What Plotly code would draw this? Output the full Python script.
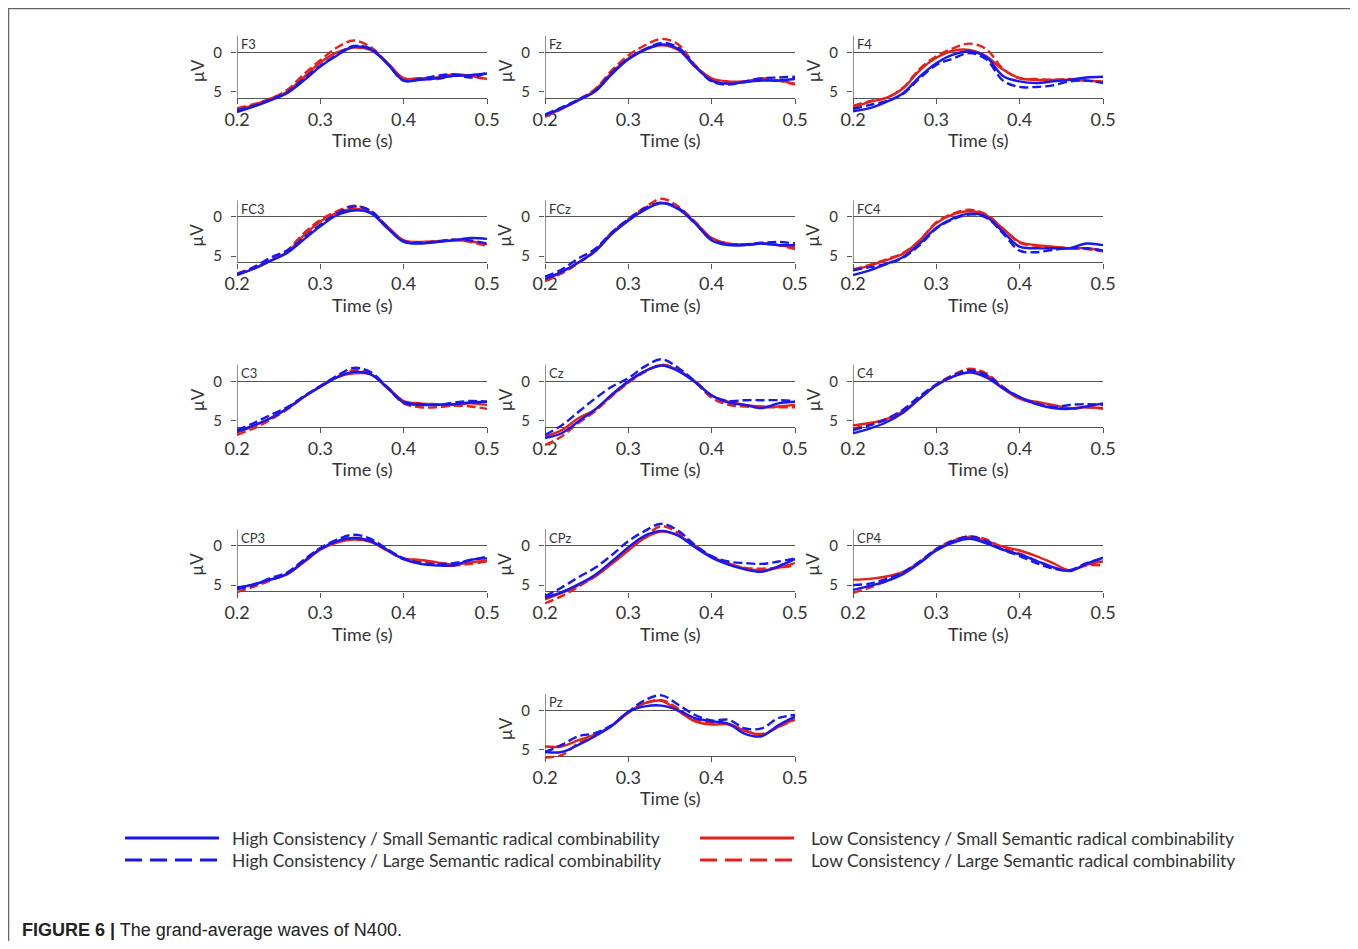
import plotly.graph_objects as go

# target canvas is 1358x949; the page body adds an 8px margin, so the figure is 8px smaller
PAGE_W, PAGE_H = 1358, 949
BODY = 8
FW, FH = PAGE_W - BODY, PAGE_H - 2 * BODY

# ---------------- data (µV, negative plotted upward) ----------------
time_s = [0.20, 0.22, 0.24, 0.26, 0.28, 0.30, 0.32, 0.34, 0.36, 0.38, 0.40, 0.42, 0.44, 0.46, 0.48, 0.50]
x_ticks = [0.2, 0.3, 0.4, 0.5]
x_tick_text = ["0.2", "0.3", "0.4", "0.5"]
y_ticks = [0, 5]
y_tick_text = ["0", "5"]

channels = ["F3", "Fz", "F4", "FC3", "FCz", "FC4", "C3", "Cz", "C4", "CP3", "CPz", "CP4", "Pz"]
grid_row = [0, 0, 0, 1, 1, 1, 2, 2, 2, 3, 3, 3, 4]
grid_col = [0, 1, 2, 0, 1, 2, 0, 1, 2, 0, 1, 2, 1]

condition_names = [
    "High Consistency / Small Semantic radical combinability",
    "High Consistency / Large Semantic radical combinability",
    "Low Consistency / Small Semantic radical combinability",
    "Low Consistency / Large Semantic radical combinability",
]

# High consistency / small combinability (blue solid)
hs_F3 = [7.6, 6.9, 6.1, 5.2, 3.6, 1.8, 0.4, -0.7, -0.4, 1.4, 3.6, 3.5, 3.3, 3.0, 2.9, 2.7]
hs_Fz = [8.0, 7.1, 6.1, 5.0, 2.8, 0.9, -0.3, -1.0, -0.4, 1.8, 3.6, 4.0, 3.8, 3.6, 3.6, 3.4]
hs_F4 = [7.5, 7.1, 6.3, 5.2, 3.1, 1.4, 0.3, -0.1, 0.6, 3.0, 3.7, 3.9, 3.7, 3.5, 3.2, 3.1]
hs_FC3 = [7.4, 6.6, 5.6, 4.6, 2.9, 1.2, -0.2, -0.8, -0.5, 1.4, 3.2, 3.4, 3.2, 3.0, 2.7, 2.8]
hs_FCz = [7.9, 7.0, 5.8, 4.4, 2.2, 0.5, -0.9, -1.7, -1.0, 0.8, 3.0, 3.6, 3.6, 3.4, 3.6, 3.6]
hs_FC4 = [7.4, 6.8, 6.0, 5.1, 3.4, 1.4, 0.2, -0.4, 0.0, 1.9, 3.8, 4.0, 4.0, 4.0, 3.4, 3.6]
hs_C3 = [6.4, 5.6, 4.7, 3.5, 2.0, 0.7, -0.5, -1.2, -0.9, 0.8, 2.7, 3.0, 3.0, 2.9, 2.7, 2.6]
hs_Cz = [7.2, 6.6, 5.1, 3.6, 1.7, 0.0, -1.3, -2.0, -1.3, 0.1, 1.8, 2.7, 3.0, 3.4, 2.8, 2.6]
hs_C4 = [6.6, 6.0, 5.2, 4.0, 2.2, 0.5, -0.6, -1.1, -0.5, 0.9, 2.0, 2.9, 3.4, 3.5, 3.2, 2.8]
hs_CP3 = [5.3, 4.9, 4.3, 3.6, 2.0, 0.4, -0.6, -1.0, -0.6, 0.5, 1.7, 2.3, 2.5, 2.5, 1.8, 1.6]
hs_CPz = [6.6, 5.9, 4.9, 3.7, 2.0, 0.2, -1.3, -1.9, -1.3, 0.2, 1.5, 2.4, 3.0, 3.3, 2.6, 1.7]
hs_CP4 = [5.6, 5.1, 4.5, 3.6, 2.2, 0.6, -0.4, -0.9, -0.3, 0.5, 1.1, 1.9, 2.7, 3.2, 2.3, 1.5]
hs_Pz = [5.3, 5.3, 4.4, 3.3, 2.0, 0.2, -0.5, -0.6, 0.0, 1.0, 1.4, 1.7, 3.0, 3.3, 1.9, 0.8]

# High consistency / large combinability (blue dashed)
hl_F3 = [7.4, 6.8, 6.0, 5.1, 3.4, 1.7, 0.3, -0.8, -0.5, 1.4, 3.6, 3.4, 3.0, 2.8, 3.2, 2.6]
hl_Fz = [7.9, 7.0, 6.0, 4.9, 2.6, 0.8, -0.4, -1.2, -0.6, 1.7, 3.7, 4.1, 3.7, 3.3, 3.2, 3.1]
hl_F4 = [7.2, 6.7, 6.2, 5.3, 3.3, 1.6, 0.8, 0.1, 0.9, 3.6, 4.4, 4.4, 4.2, 3.7, 3.6, 3.9]
hl_FC3 = [7.3, 6.4, 5.2, 4.3, 2.7, 1.0, -0.4, -1.3, -0.8, 1.3, 3.1, 3.3, 3.1, 2.9, 3.0, 3.4]
hl_FCz = [7.6, 6.7, 5.3, 4.1, 2.0, 0.3, -1.1, -1.8, -1.1, 0.8, 2.9, 3.5, 3.5, 3.3, 3.2, 3.4]
hl_FC4 = [6.8, 6.4, 6.0, 5.2, 3.6, 1.5, 0.3, -0.3, 0.1, 2.1, 4.3, 4.5, 4.2, 4.0, 4.0, 4.3]
hl_C3 = [6.2, 5.3, 4.3, 3.3, 1.9, 0.6, -0.7, -1.7, -1.2, 0.7, 2.6, 2.9, 3.0, 2.7, 2.5, 2.6]
hl_Cz = [6.8, 5.6, 3.9, 2.2, 0.7, -0.4, -1.9, -2.8, -1.7, 0.0, 1.8, 2.5, 2.4, 2.4, 2.4, 2.5]
hl_C4 = [6.2, 5.6, 4.8, 3.6, 1.9, 0.4, -0.7, -1.4, -0.8, 0.8, 2.0, 2.8, 3.3, 3.0, 2.9, 3.0]
hl_CP3 = [5.5, 5.0, 4.1, 3.4, 1.8, 0.3, -0.8, -1.4, -0.9, 0.4, 1.6, 2.2, 2.3, 2.2, 1.8, 1.4]
hl_CPz = [6.4, 5.3, 4.0, 2.8, 1.2, -0.6, -1.9, -2.8, -1.9, -0.1, 1.3, 2.0, 2.2, 2.3, 2.0, 1.6]
hl_CP4 = [5.0, 4.8, 4.2, 3.4, 2.0, 0.4, -0.6, -1.2, -0.6, 0.5, 1.3, 2.2, 2.9, 3.1, 2.2, 1.6]
hl_Pz = [5.3, 4.4, 3.3, 2.9, 1.9, 0.2, -1.3, -1.9, -0.7, 0.6, 1.3, 1.2, 2.3, 2.3, 1.0, 0.6]

# Low consistency / small combinability (red solid)
ls_F3 = [7.3, 6.7, 5.9, 5.0, 3.2, 1.3, 0.0, -0.6, -0.3, 1.3, 3.3, 3.3, 3.2, 2.8, 3.0, 3.4]
ls_Fz = [8.1, 7.2, 6.1, 4.8, 2.6, 0.8, -0.4, -0.9, -0.3, 1.8, 3.3, 3.7, 3.7, 3.5, 3.6, 4.0]
ls_F4 = [7.0, 6.3, 5.8, 4.6, 2.3, 0.7, -0.2, -0.3, 0.5, 2.2, 3.3, 3.5, 3.5, 3.5, 3.6, 3.7]
ls_FC3 = [7.3, 6.6, 5.6, 4.5, 2.4, 0.6, -0.5, -1.0, -0.6, 1.2, 3.0, 3.2, 3.1, 3.0, 3.1, 3.5]
ls_FCz = [8.0, 7.0, 5.8, 4.3, 2.1, 0.4, -0.9, -1.8, -1.0, 0.7, 2.7, 3.4, 3.5, 3.4, 3.6, 3.9]
ls_FC4 = [6.8, 6.2, 5.5, 4.7, 3.0, 0.8, -0.3, -0.7, -0.2, 1.5, 3.2, 3.6, 3.8, 4.0, 4.0, 4.3]
ls_C3 = [6.5, 5.7, 4.7, 3.5, 2.0, 0.7, -0.5, -1.0, -0.9, 0.7, 2.5, 2.8, 2.9, 3.0, 2.8, 3.0]
ls_Cz = [7.0, 6.2, 4.7, 3.6, 1.8, 0.1, -1.3, -2.0, -1.4, 0.0, 1.8, 2.6, 3.0, 3.2, 3.2, 3.0]
ls_C4 = [5.6, 5.3, 4.8, 3.8, 2.2, 0.5, -0.6, -1.2, -0.8, 0.9, 2.2, 2.6, 3.0, 3.4, 3.3, 3.4]
ls_CP3 = [5.4, 4.9, 4.3, 3.6, 2.1, 0.5, -0.4, -0.8, -0.5, 0.6, 1.6, 1.8, 2.1, 2.4, 2.1, 1.9]
ls_CPz = [6.8, 6.0, 5.0, 3.9, 2.3, 0.6, -1.0, -1.8, -1.3, 0.0, 1.4, 2.2, 2.9, 3.1, 2.8, 2.2]
ls_CP4 = [4.3, 4.2, 3.9, 3.3, 2.1, 0.5, -0.6, -1.1, -0.6, 0.1, 0.6, 1.3, 2.2, 3.1, 2.4, 2.0]
ls_Pz = [4.6, 4.6, 3.8, 3.1, 2.0, 0.3, -0.9, -1.2, 0.1, 1.4, 1.8, 1.8, 2.6, 3.1, 2.1, 1.1]

# Low consistency / large combinability (red dashed)
ll_F3 = [7.1, 6.6, 5.9, 4.8, 2.8, 1.0, -0.6, -1.5, -0.7, 1.3, 3.3, 3.3, 3.4, 3.0, 3.0, 3.5]
ll_Fz = [8.2, 7.2, 6.0, 4.7, 2.3, 0.4, -0.9, -1.7, -1.0, 1.6, 3.4, 3.8, 3.7, 3.3, 3.6, 4.1]
ll_F4 = [6.8, 6.2, 5.8, 4.5, 2.1, 0.5, -0.5, -1.1, -0.4, 2.1, 3.3, 3.4, 3.5, 3.4, 3.6, 3.8]
ll_FC3 = [7.2, 6.5, 5.5, 4.3, 2.1, 0.4, -0.7, -1.4, -0.8, 1.2, 3.0, 3.3, 3.2, 2.9, 3.2, 3.7]
ll_FCz = [8.2, 7.2, 5.9, 4.4, 2.0, 0.3, -1.2, -2.3, -1.3, 0.6, 2.7, 3.4, 3.6, 3.4, 3.6, 4.1]
ll_FC4 = [6.7, 6.1, 5.4, 4.6, 3.0, 0.7, -0.4, -0.9, -0.3, 1.5, 3.3, 3.7, 3.9, 4.0, 4.1, 4.4]
ll_C3 = [6.8, 6.0, 4.9, 3.6, 2.0, 0.6, -0.6, -1.4, -1.0, 0.8, 2.8, 3.3, 3.3, 3.1, 3.2, 3.5]
ll_Cz = [8.1, 7.0, 5.3, 3.8, 1.9, 0.2, -1.2, -2.1, -1.5, 0.1, 2.1, 3.0, 3.2, 3.3, 3.3, 3.3]
ll_C4 = [6.0, 5.5, 4.9, 3.8, 2.1, 0.4, -0.8, -1.6, -1.0, 0.7, 2.2, 2.8, 3.2, 3.5, 3.3, 3.5]
ll_CP3 = [5.9, 5.2, 4.4, 3.5, 1.9, 0.3, -0.6, -1.0, -0.7, 0.6, 1.7, 2.0, 2.3, 2.5, 2.3, 2.0]
ll_CPz = [7.3, 6.4, 5.2, 3.9, 2.2, 0.4, -1.2, -2.5, -1.6, 0.0, 1.4, 2.3, 2.8, 2.9, 2.8, 2.5]
ll_CP4 = [6.0, 5.3, 4.5, 3.5, 2.1, 0.4, -0.7, -1.2, -0.8, 0.3, 1.0, 1.9, 2.8, 3.1, 2.5, 2.5]
ll_Pz = [6.0, 5.7, 4.2, 3.2, 1.9, 0.3, -0.9, -1.3, -0.2, 1.2, 1.6, 1.7, 2.6, 3.0, 2.1, 1.2]

g = globals()
series = {ch: {"hs": g["hs_" + ch], "hl": g["hl_" + ch], "ls": g["ls_" + ch], "ll": g["ll_" + ch]}
          for ch in channels}

# ---------------- styling / layout geometry (page pixels) ----------------
BLUE = "#1717f2"
RED = "#e3221b"
AXC = "#555555"
TXT = "#333333"
FONT = "Lato"

col_x_px = [(237, 487), (545, 795), (853, 1103)]
row_zero_px = [52.3, 216.8, 381.3, 545.8, 710.3]
UNIT = 7.87          # px per µV
Y_TOP, Y_BOT = -3.0, 8.6
AX_TOP, AX_BOT = -2.1, 5.8


def px_x(p):
    return (p - BODY) / FW


def px_y(p):
    return 1 - (p - BODY) / FH


fig = go.Figure()
layout = dict(
    width=FW, height=FH, margin=dict(l=0, r=0, t=0, b=0, pad=0, autoexpand=False),
    paper_bgcolor="white", plot_bgcolor="rgba(0,0,0,0)",
    showlegend=False, font=dict(family=FONT, color=TXT),
)
shapes = []
annotations = []

styles = [
    ("ls", RED, "solid"),
    ("ll", RED, "9px,4px"),
    ("hs", BLUE, "solid"),
    ("hl", BLUE, "9px,4px"),
]

for i, ch in enumerate(channels):
    n = i + 1
    xa = "x" if n == 1 else f"x{n}"
    ya = "y" if n == 1 else f"y{n}"
    r, c = grid_row[i], grid_col[i]
    x0p, x1p = col_x_px[c]
    z = row_zero_px[r]

    for key, color, dash in styles:
        fig.add_trace(go.Scatter(
            x=time_s, y=series[ch][key], mode="lines",
            line=dict(color=color, width=2.4, dash=dash, shape="spline", smoothing=1.0),
            xaxis=xa, yaxis=ya, hoverinfo="skip",
        ))

    layout["xaxis" if n == 1 else f"xaxis{n}"] = dict(
        domain=[px_x(x0p), px_x(x1p)], range=[0.2, 0.5],
        anchor="free", position=px_y(z + AX_BOT * UNIT),
        showline=True, linecolor=AXC, linewidth=1.3,
        ticks="outside", ticklen=5, tickcolor=AXC, tickwidth=1.3,
        tickvals=x_ticks, ticktext=x_tick_text,
        tickfont=dict(size=18, color=TXT, family=FONT),
        showgrid=False, zeroline=False, layer="below traces", automargin=False,
    )
    layout["yaxis" if n == 1 else f"yaxis{n}"] = dict(
        domain=[px_y(z + Y_BOT * UNIT), px_y(z + Y_TOP * UNIT)],
        range=[Y_BOT, Y_TOP], anchor=xa,
        showline=False, ticks="outside", ticklen=5, tickcolor=AXC, tickwidth=1.3,
        tickvals=y_ticks, ticktext=y_tick_text,
        tickfont=dict(size=15, color=TXT, family=FONT), ticklabelstandoff=6,
        showgrid=False, zeroline=True, zerolinecolor=AXC, zerolinewidth=1.3,
        layer="below traces", automargin=False,
    )
    # y-axis spine (only over the visible µV span)
    shapes.append(dict(type="line", xref=xa, yref=ya, x0=0.2, x1=0.2, y0=AX_BOT, y1=AX_TOP,
                       line=dict(color=AXC, width=1.3), layer="below"))
    # channel label
    annotations.append(dict(text=ch, xref=xa, yref=ya, x=0.2, y=-1.0, xshift=2,
                            xanchor="left", yanchor="middle", showarrow=False,
                            font=dict(size=13, color=TXT, family=FONT)))
    # µV label
    annotations.append(dict(text="µV", xref="paper", yref="paper",
                            x=px_x(x0p - 40), y=px_y(z + 19), textangle=-90,
                            xanchor="center", yanchor="middle", showarrow=False,
                            font=dict(size=17, color=TXT, family=FONT)))
    # Time label
    annotations.append(dict(text="Time (s)", xref="paper", yref="paper",
                            x=px_x((x0p + x1p) / 2), y=px_y(z + 88),
                            xanchor="center", yanchor="middle", showarrow=False,
                            font=dict(size=18, color=TXT, family=FONT)))

# ---------------- legend (drawn manually) ----------------
legend_items = [
    (condition_names[0], BLUE, "solid", 125, 230, 838),
    (condition_names[1], BLUE, "17px,8px", 125, 230, 860),
    (condition_names[2], RED, "solid", 700, 809, 838),
    (condition_names[3], RED, "17px,8px", 700, 809, 860),
]
for name, color, dash, lx, tx, ly in legend_items:
    shapes.append(dict(type="line", xref="paper", yref="paper",
                       x0=px_x(lx), x1=px_x(lx + 94), y0=px_y(ly), y1=px_y(ly),
                       line=dict(color=color, width=3, dash=dash)))
    annotations.append(dict(text=name, xref="paper", yref="paper",
                            x=px_x(tx), y=px_y(ly), xanchor="left", yanchor="middle",
                            showarrow=False, font=dict(size=17.5, color=TXT, family=FONT)))

# ---------------- frame and caption ----------------
shapes.append(dict(type="rect", xref="paper", yref="paper",
                   x0=px_x(8.5), x1=px_x(1353.5), y0=px_y(975), y1=px_y(8.5),
                   line=dict(color="#666666", width=1.5), layer="below"))
annotations.append(dict(text="<b>FIGURE 6 |</b> The grand-average waves of N400.",
                        xref="paper", yref="paper", x=px_x(20), y=px_y(930),
                        xanchor="left", yanchor="middle", showarrow=False,
                        font=dict(size=18, color="#222222", family="Liberation Sans")))

layout["shapes"] = shapes
layout["annotations"] = annotations
fig.update_layout(**layout)
fig.write_html("out.html")
